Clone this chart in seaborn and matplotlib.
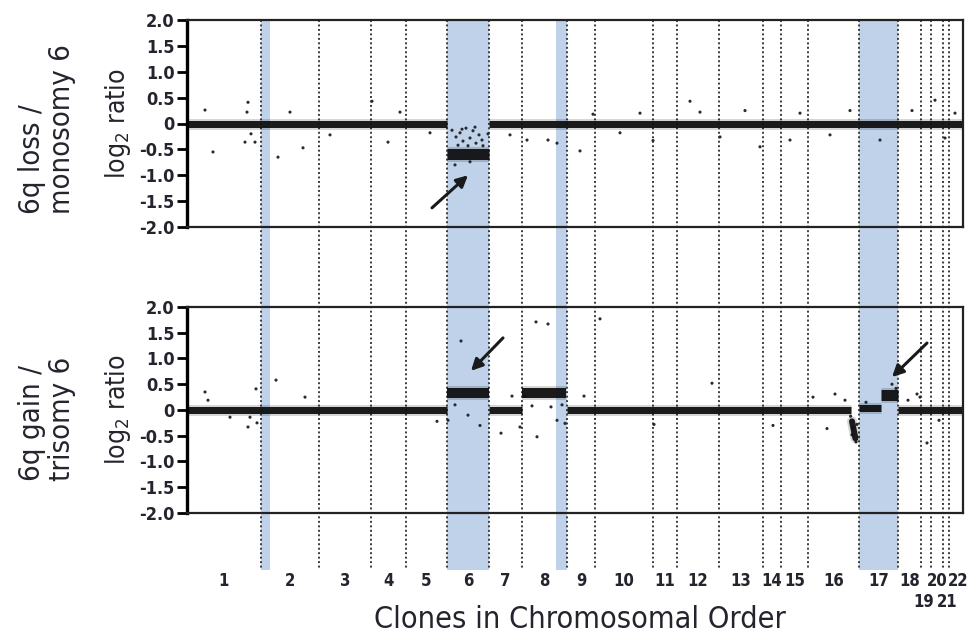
import numpy as np
import pandas as pd
import seaborn as sns
import matplotlib.pyplot as plt
from matplotlib import font_manager

# ---------------------------------------------------------------- data
chrom_labels = [str(i) for i in range(1, 23)]
chrom_clones = [370, 290, 260, 175, 205, 210, 165, 225, 140, 290, 120,
                210, 220, 90, 135, 255, 195, 115, 50, 60, 30, 70]
label_row = [0] * 18 + [1, 0, 1, 0]          # 19 and 21 sit on a second row

# shaded clone ranges (start, end)
highlight_start = [370, 1300, 1845, 3360]
highlight_end = [415, 1510, 1900, 3555]

# segmented log2 profiles: start clone, end clone, value at start, value at end, band px
top_seg_start = [0, 1300, 1510]
top_seg_end = [1300, 1510, 3880]
top_seg_v0 = [0.0, -0.58, 0.0]
top_seg_v1 = [0.0, -0.58, 0.0]
top_seg_px = [7, 11, 7]

bot_seg_start = [0, 1300, 1510, 1675, 1900, 3325, 3360, 3472, 3555]
bot_seg_end = [1300, 1510, 1675, 1895, 3318, 3342, 3472, 3555, 3880]
bot_seg_v0 = [0.0, 0.33, 0.0, 0.33, 0.0, -0.22, 0.04, 0.30, 0.0]
bot_seg_v1 = [0.0, 0.33, 0.0, 0.33, 0.0, -0.55, 0.04, 0.30, 0.0]
bot_seg_px = [7, 10, 7, 10, 7, 6, 7, 11, 7]

# scattered single clones
top_pts_x = [90, 130, 305, 300, 290, 340, 320, 455, 515, 580, 715, 925, 1005,
             1065, 1215, 1325, 1345, 1365, 1380, 1395, 1415, 1430, 1445, 1460,
             1475, 1355, 1405, 1440, 1480, 1505, 1340, 1415, 1375, 1700, 1805,
             1850, 1965, 1615, 2030, 2165, 2265, 2330, 2515, 2565, 2665, 2790,
             2865, 3015, 3065, 3215, 3315, 3465, 3625, 3740, 3790, 3840]
top_pts_y = [0.26, -0.55, 0.41, 0.22, -0.36, -0.36, -0.20, -0.65, 0.22, -0.47,
             -0.22, 0.43, -0.36, 0.22, -0.18, -0.13, -0.26, -0.18, -0.34, -0.09,
             -0.28, -0.14, -0.38, -0.22, -0.32, -0.42, -0.43, -0.07, -0.43,
             -0.20, -0.80, -0.74, -0.11, -0.32, -0.32, -0.38, -0.53, -0.22,
             0.18, -0.18, 0.20, -0.33, 0.43, 0.22, -0.26, 0.25, -0.45, -0.32,
             0.20, -0.22, 0.25, -0.32, 0.25, 0.45, -0.28, 0.20]

bot_pts_x = [90, 105, 215, 315, 305, 350, 345, 445, 590, 1305, 1340, 1405,
             1465, 1370, 1250, 1625, 1665, 1745, 1805, 1875, 2065, 1725, 1820,
             1850, 1890, 1570, 1750, 1985, 1690, 2335, 2625, 2930, 3130, 3200,
             3700, 3665, 3650, 3605, 3760, 3240, 3290, 3395, 3525, 3545,
             3318, 3330, 3345, 3325, 3350]
bot_pts_y = [0.35, 0.19, -0.14, -0.14, -0.33, -0.25, 0.41, 0.58, 0.25, -0.20,
             0.10, -0.10, -0.30, 1.34, -0.22, 0.27, -0.33, 1.71, 1.67, 0.10,
             1.77, 0.08, 0.06, -0.20, -0.26, -0.45, -0.52, 0.27, 0.27, -0.28,
             0.52, -0.30, 0.25, -0.36, -0.64, 0.25, 0.31, 0.19, -0.20, 0.31,
             0.19, 0.15, 0.50, 0.42,
             -0.12, -0.35, -0.62, -0.48, -0.28]

y_ticks = [2.0, 1.5, 1.0, 0.5, 0.0, -0.5, -1.0, -1.5, -2.0]
y_tick_labels = ["2.0", "1.5", "1.0", "0.5", "0", "-0.5", "-1.0", "-1.5", "-2.0"]

# ---------------------------------------------------------------- style
sns.set_style("white")
names = {f.name for f in font_manager.fontManager.ttflist}
if "Liberation Sans Narrow" in names:
    FAM, STRETCH = "Liberation Sans Narrow", "normal"
else:
    FAM, STRETCH = "DejaVu Sans", "condensed"
plt.rcParams["font.family"] = [FAM, "DejaVu Sans"]
plt.rcParams["mathtext.fontset"] = "custom"
plt.rcParams["mathtext.rm"] = FAM
plt.rcParams["mathtext.default"] = "regular"

INK = "#24242f"
BLUE = "#bfd2ea"
W_PX, H_PX = 968, 636
X0, X1 = 187, 963
total = int(np.sum(chrom_clones))
bounds = np.cumsum(chrom_clones)
starts = bounds - np.array(chrom_clones)
label_nudge = [0] * 18 + [-14, 0, 6, 10]     # clone units, keeps 19-22 legible

fig = plt.figure(figsize=(W_PX / 100, H_PX / 100), dpi=100)
L, Wd = X0 / W_PX, (X1 - X0) / W_PX

# background layer with shading, chromosome separators and labels
bg = fig.add_axes([L, 0, Wd, 1], zorder=0)
bg.set_xlim(0, total)
bg.set_ylim(H_PX, 0)
bg.axis("off")
for s, e in zip(highlight_start, highlight_end):
    bg.fill_betweenx([20, 570], s, e, color=BLUE, lw=0)
bg.vlines(bounds[:-1], 20, 570, colors="#3a3a3a", lw=1.4,
          linestyles=(0, (1.0, 1.3)))
for lab, s, e, row, nd in zip(chrom_labels, starts, bounds, label_row, label_nudge):
    bg.text((s + e) / 2 + nd, 581 + 21 * row, lab, ha="center", va="center",
            fontsize=12, fontweight="bold", color=INK, fontstretch=STRETCH)
fig.text(580 / W_PX, 1 - 619 / H_PX, "Clones in Chromosomal Order",
         ha="center", va="center", fontsize=22, color=INK, fontstretch=STRETCH)


def panel(top_px, bot_px, seg, pts, title, title_base_px):
    ax = fig.add_axes([L, 1 - bot_px / H_PX, Wd, (bot_px - top_px) / H_PX],
                      zorder=2)
    ax.set_facecolor("none")
    s0, s1, v0, v1, px = seg
    for a, b, ya, yb, w in zip(s0, s1, v0, v1, px):
        d = pd.DataFrame({"clone": [a, b], "log2": [ya, yb]})
        cap = "butt" if ya == yb else "round"
        sns.lineplot(data=d, x="clone", y="log2", ax=ax, color="black",
                     lw=(w + 4) * 0.72, alpha=0.16, solid_capstyle=cap,
                     estimator=None, sort=False)
        sns.lineplot(data=d, x="clone", y="log2", ax=ax, color="#111111",
                     lw=w * 0.72, alpha=0.95, solid_capstyle=cap,
                     estimator=None, sort=False)
    dp = pd.DataFrame({"clone": pts[0], "log2": pts[1]})
    sns.scatterplot(data=dp, x="clone", y="log2", ax=ax, s=5, marker="o",
                    color="#2a2a2a", edgecolor="none")
    ax.set_xlim(0, total)
    ax.set_ylim(-2, 2)
    ax.set_xticks([])
    ax.set_yticks(y_ticks)
    ax.set_yticklabels(y_tick_labels)
    ax.set_xlabel("")
    ax.set_ylabel("")
    for lab in ax.get_yticklabels():
        lab.set_fontweight("bold")
        lab.set_fontstretch(STRETCH)
        lab.set_color(INK)
    ax.tick_params(axis="y", left=True, length=7, width=2, labelsize=13,
                   pad=2, color="black")
    for side, sp in ax.spines.items():
        sp.set_visible(True)
        sp.set_color("black" if side == "left" else "#222222")
        sp.set_linewidth(2.4 if side == "left" else 1.6)
    mid = (top_px + bot_px) / 2
    fig.text(118 / W_PX, 1 - mid / H_PX, "log$_2$ ratio", rotation=90,
             ha="center", va="center", fontsize=19, color=INK,
             fontstretch=STRETCH)
    fig.text(47 / W_PX, 1 - title_base_px / H_PX, title, rotation=90,
             ha="center", va="bottom", multialignment="left", fontsize=21,
             color=INK, fontstretch=STRETCH, linespacing=1.05)
    return ax


ax1 = panel(20, 227, (top_seg_start, top_seg_end, top_seg_v0, top_seg_v1, top_seg_px),
            (top_pts_x, top_pts_y), "6q loss /\nmonosomy 6", 214)
ax2 = panel(307, 513, (bot_seg_start, bot_seg_end, bot_seg_v0, bot_seg_v1, bot_seg_px),
            (bot_pts_x, bot_pts_y), "6q gain /\ntrisomy 6", 481)

arrow = dict(arrowstyle="-|>", color="#1a1a1a", lw=2.2, mutation_scale=17,
             shrinkA=0, shrinkB=0)
ax1.annotate("", xy=(1405, -1.0), xytext=(1225, -1.63), arrowprops=arrow)
ax2.annotate("", xy=(1420, 0.76), xytext=(1580, 1.40), arrowprops=arrow)
ax2.annotate("", xy=(3525, 0.64), xytext=(3700, 1.30), arrowprops=arrow)

fig.savefig("out.png", dpi=100)
